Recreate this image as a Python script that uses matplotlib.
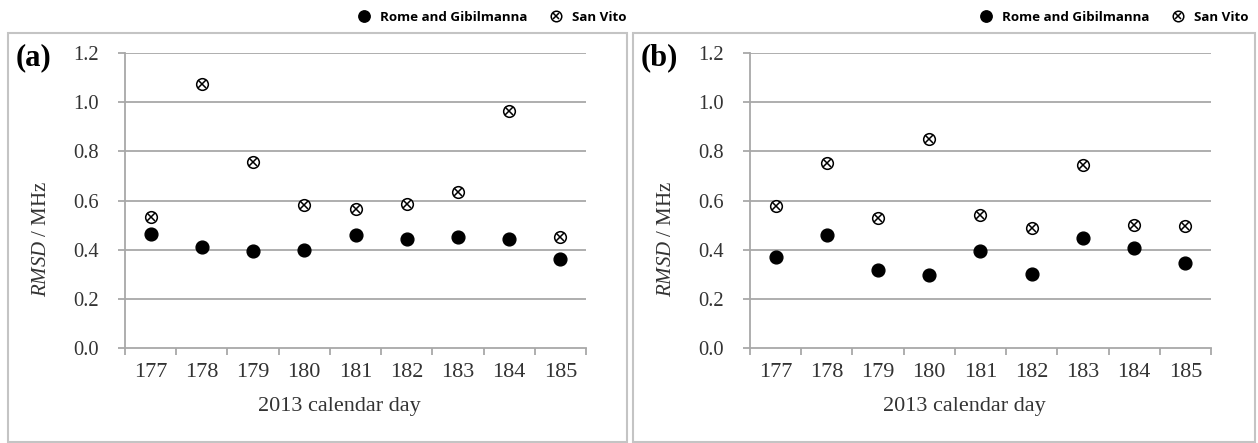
import matplotlib.pyplot as plt
import numpy as np
from matplotlib.lines import Line2D
from matplotlib.patches import Rectangle
from matplotlib.legend_handler import HandlerTuple

plt.rcParams['mathtext.fontset'] = 'custom'
plt.rcParams['mathtext.rm'] = 'Liberation Serif'
plt.rcParams['mathtext.it'] = 'Liberation Serif:italic'

# ---------------- data ----------------
days = ['177', '178', '179', '180', '181', '182', '183', '184', '185']

rome_a = [0.466, 0.410, 0.395, 0.398, 0.458, 0.442, 0.450, 0.443, 0.363]
sanvito_a = [0.534, 1.073, 0.758, 0.584, 0.567, 0.588, 0.635, 0.963, 0.450]

rome_b = [0.370, 0.461, 0.319, 0.297, 0.395, 0.302, 0.449, 0.407, 0.348]
sanvito_b = [0.576, 0.753, 0.529, 0.849, 0.540, 0.488, 0.746, 0.502, 0.495]

yticks = [0.0, 0.2, 0.4, 0.6, 0.8, 1.0, 1.2]

# ---------------- figure ----------------
fig = plt.figure(figsize=(12.58, 4.43), dpi=100)
grey = '#a8a8a8'
txt = '#333333'
serif = 'Liberation Serif'

# tag, data, axes rect, frame (x0, width), legend anchor x
panels = [
    ('(a)', rome_a, sanvito_a, [0.0994, 0.2144, 0.3664, 0.6656], (0.0064, 0.4920), 1.087),
    ('(b)', rome_b, sanvito_b, [0.5962, 0.2144, 0.3664, 0.6656], (0.5032, 0.4944), 1.082),
]

x = np.arange(len(days))

for tag, rome, sv, rect, box, lx in panels:
    # panel frame
    fig.patches.append(Rectangle((box[0], 0.003), box[1], 0.922, transform=fig.transFigure,
                                 fill=False, edgecolor='#c4c4c4', linewidth=1.5))
    ax = fig.add_axes(rect)
    ax.set_xlim(-0.5, len(days) - 0.5)
    ax.set_ylim(0, 1.2)

    for s in ['top', 'right']:
        ax.spines[s].set_visible(False)
    for s in ['left', 'bottom']:
        ax.spines[s].set_color(grey)
        ax.spines[s].set_linewidth(1.3)

    ax.set_yticks(yticks)
    ax.set_yticklabels([f'{v:.1f}' for v in yticks], fontfamily=serif, fontsize=14.8, color=txt)
    ax.tick_params(axis='y', length=5, width=1.3, color=grey, pad=14)
    for v in yticks[1:]:
        ax.axhline(v, color=grey, linewidth=1.3, zorder=1)

    # category boundaries as ticks, labels in the middle
    ax.set_xticks(np.arange(-0.5, len(days), 1.0))
    ax.set_xticklabels([])
    ax.tick_params(axis='x', which='major', length=5, width=1.3, color=grey, direction='out')
    ax.set_xticks(x, minor=True)
    ax.set_xticklabels(days, minor=True, fontfamily=serif, fontsize=16, color=txt)
    ax.tick_params(axis='x', which='minor', length=0, pad=11)

    ax.plot(x, rome, 'o', color='black', markersize=9.2, zorder=3)
    ax.plot(x, sv, 'o', markerfacecolor='white', markeredgecolor='black', markersize=8.4,
            markeredgewidth=1.1, zorder=3)
    ax.plot(x, sv, 'x', color='black', markersize=5.4, markeredgewidth=1.1, zorder=4)

    ax.set_xlabel('2013 calendar day', fontfamily=serif, fontsize=16, color=txt)
    ax.xaxis.set_label_coords(0.466, -0.165)
    ax.set_ylabel(r'$\mathit{RMSD}$ / MHz', fontfamily=serif, fontsize=15, color=txt)
    ax.yaxis.set_label_coords(-0.16, 0.37)

    ax.text(-0.238, 0.985, tag, transform=ax.transAxes, fontfamily=serif, fontsize=22,
            fontweight='bold', ha='left', va='center')

    h1 = Line2D([], [], marker='o', linestyle='none', color='black', markersize=8.2)
    h2a = Line2D([], [], marker='o', linestyle='none', markerfacecolor='white',
                 markeredgecolor='black', markersize=7.6, markeredgewidth=1.1)
    h2b = Line2D([], [], marker='x', linestyle='none', color='black', markersize=4.8, markeredgewidth=1.1)
    ax.legend([h1, (h2a, h2b)], ['Rome and Gibilmanna', 'San Vito'],
              handler_map={tuple: HandlerTuple(ndivide=1, pad=0)},
              loc='center right', bbox_to_anchor=(lx, 1.122), ncol=2, frameon=False,
              handlelength=0.9, handletextpad=0.75, columnspacing=1.7, borderpad=0,
              borderaxespad=0,
              prop={'family': 'Open Sans', 'weight': 'bold', 'size': 9.6})

fig.savefig('out.png', dpi=100)
